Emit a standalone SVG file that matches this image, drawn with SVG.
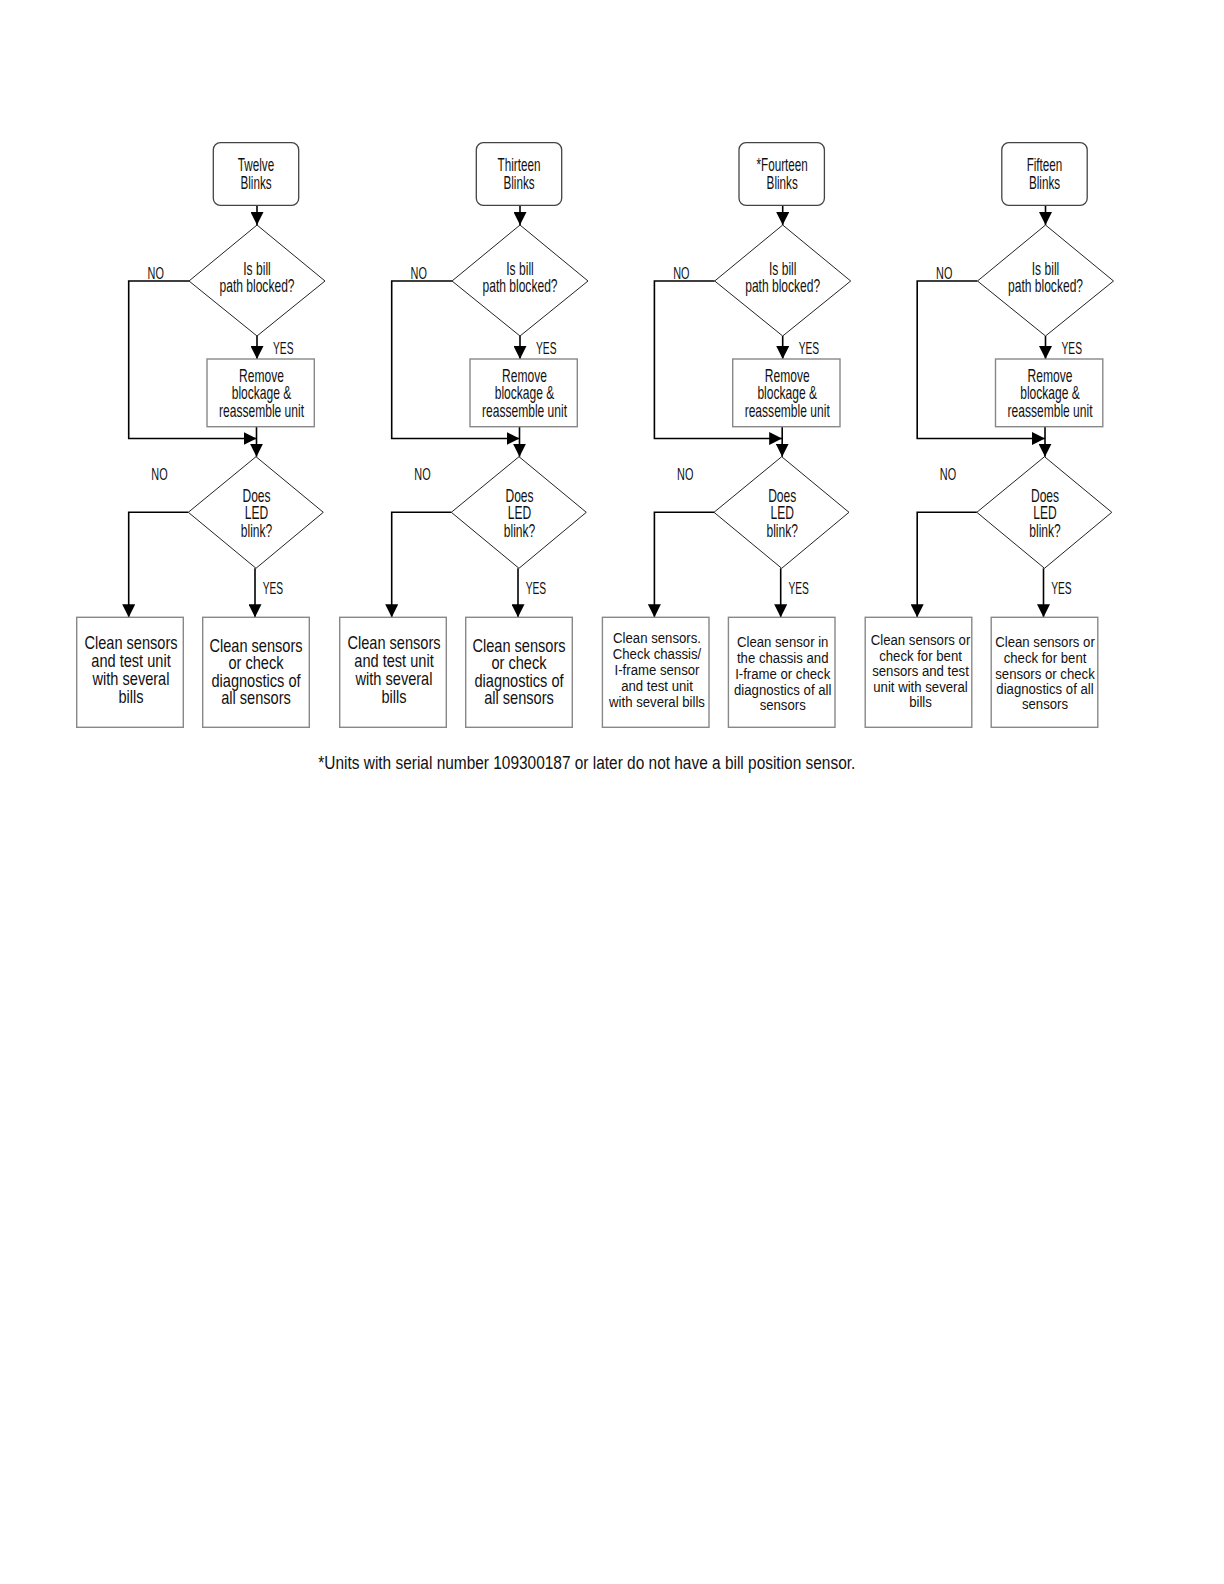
<svg xmlns="http://www.w3.org/2000/svg" width="1224" height="1584" viewBox="0 0 1224 1584">
<style>
  text { font-family: "Liberation Sans", Arial, sans-serif; fill: #111; }
  .t { font-size: 18px; text-anchor: middle; }
  .lab { font-size: 16.5px; text-anchor: middle; }
  .labs { font-size: 16.5px; text-anchor: start; }
  .b17 { font-size: 18px; text-anchor: middle; }
  .b15 { font-size: 15.5px; text-anchor: middle; }
  .start { fill: #fff; stroke: #444; stroke-width: 1.3; }
  .dia { fill: #fff; stroke: #222; stroke-width: 1; }
  .box { fill: #fff; stroke: #888; stroke-width: 1.4; }
  .conn { fill: none; stroke: #000; stroke-width: 1.6; }
  .foot { font-size: 18px; }
</style>
<defs>
  <marker id="arr" viewBox="0 0 13 13" refX="13" refY="6.5" markerWidth="13" markerHeight="13" markerUnits="userSpaceOnUse" orient="auto">
    <path d="M0,0 L13,6.5 L0,13 z" fill="#000"/>
  </marker>
</defs>
<rect width="1224" height="1584" fill="#fff"/>

<g id="connectors">
  <g id="conn-twelve" transform="translate(0,0)">
    <path class="conn" d="M257,205.3 V225" marker-end="url(#arr)"/>
    <path class="conn" d="M189,281 H128.7 V438.5 H256.5" marker-end="url(#arr)"/>
    <path class="conn" d="M257,336 V359" marker-end="url(#arr)"/>
    <path class="conn" d="M256.5,426.7 V456.7" marker-end="url(#arr)"/>
    <path class="conn" d="M188.3,512.3 H128.7 V617.3" marker-end="url(#arr)"/>
    <path class="conn" d="M255,568.3 V617.3" marker-end="url(#arr)"/>
  </g>
  <g id="conn-thirteen" transform="translate(263,0)">
    <path class="conn" d="M257,205.3 V225" marker-end="url(#arr)"/>
    <path class="conn" d="M189,281 H128.7 V438.5 H256.5" marker-end="url(#arr)"/>
    <path class="conn" d="M257,336 V359" marker-end="url(#arr)"/>
    <path class="conn" d="M256.5,426.7 V456.7" marker-end="url(#arr)"/>
    <path class="conn" d="M188.3,512.3 H128.7 V617.3" marker-end="url(#arr)"/>
    <path class="conn" d="M255,568.3 V617.3" marker-end="url(#arr)"/>
  </g>
  <g id="conn-fourteen" transform="translate(525.7,0)">
    <path class="conn" d="M257,205.3 V225" marker-end="url(#arr)"/>
    <path class="conn" d="M189,281 H128.7 V438.5 H256.5" marker-end="url(#arr)"/>
    <path class="conn" d="M257,336 V359" marker-end="url(#arr)"/>
    <path class="conn" d="M256.5,426.7 V456.7" marker-end="url(#arr)"/>
    <path class="conn" d="M188.3,512.3 H128.7 V617.3" marker-end="url(#arr)"/>
    <path class="conn" d="M255,568.3 V617.3" marker-end="url(#arr)"/>
  </g>
  <g id="conn-fifteen" transform="translate(788.5,0)">
    <path class="conn" d="M257,205.3 V225" marker-end="url(#arr)"/>
    <path class="conn" d="M189,281 H128.7 V438.5 H256.5" marker-end="url(#arr)"/>
    <path class="conn" d="M257,336 V359" marker-end="url(#arr)"/>
    <path class="conn" d="M256.5,426.7 V456.7" marker-end="url(#arr)"/>
    <path class="conn" d="M188.3,512.3 H128.7 V617.3" marker-end="url(#arr)"/>
    <path class="conn" d="M255,568.3 V617.3" marker-end="url(#arr)"/>
  </g>
</g>

<g id="labels">
  <g transform="translate(0,0)">
    <g transform="translate(155.7,0) scale(0.66,1)"><text class="lab" x="0" y="279">NO</text></g>
    <g transform="translate(273,0) scale(0.62,1)"><text class="labs" x="0" y="354">YES</text></g>
    <g transform="translate(159.5,0) scale(0.66,1)"><text class="lab" x="0" y="480">NO</text></g>
    <g transform="translate(262.7,0) scale(0.62,1)"><text class="labs" x="0" y="594.3">YES</text></g>
  </g>
  <g transform="translate(263,0)">
    <g transform="translate(155.7,0) scale(0.66,1)"><text class="lab" x="0" y="279">NO</text></g>
    <g transform="translate(273,0) scale(0.62,1)"><text class="labs" x="0" y="354">YES</text></g>
    <g transform="translate(159.5,0) scale(0.66,1)"><text class="lab" x="0" y="480">NO</text></g>
    <g transform="translate(262.7,0) scale(0.62,1)"><text class="labs" x="0" y="594.3">YES</text></g>
  </g>
  <g transform="translate(525.7,0)">
    <g transform="translate(155.7,0) scale(0.66,1)"><text class="lab" x="0" y="279">NO</text></g>
    <g transform="translate(273,0) scale(0.62,1)"><text class="labs" x="0" y="354">YES</text></g>
    <g transform="translate(159.5,0) scale(0.66,1)"><text class="lab" x="0" y="480">NO</text></g>
    <g transform="translate(262.7,0) scale(0.62,1)"><text class="labs" x="0" y="594.3">YES</text></g>
  </g>
  <g transform="translate(788.5,0)">
    <g transform="translate(155.7,0) scale(0.66,1)"><text class="lab" x="0" y="279">NO</text></g>
    <g transform="translate(273,0) scale(0.62,1)"><text class="labs" x="0" y="354">YES</text></g>
    <g transform="translate(159.5,0) scale(0.66,1)"><text class="lab" x="0" y="480">NO</text></g>
    <g transform="translate(262.7,0) scale(0.62,1)"><text class="labs" x="0" y="594.3">YES</text></g>
  </g>
</g>

<g id="nodes">
  <!-- Column 1: Twelve -->
  <g id="col-twelve" transform="translate(0,0)">
    <g id="twelve-start">
      <rect class="start" x="213.3" y="142.7" width="85.4" height="62.6" rx="7"/>
      <g transform="translate(256,0) scale(0.65,1)"><text class="t" x="0" y="170.7">Twelve</text><text class="t" x="0" y="188.7">Blinks</text></g>
    </g>
    <g id="twelve-q-blocked">
      <polygon class="dia" points="257,225 325,281 257,336 189,281"/>
      <g transform="translate(257,0) scale(0.67,1)"><text class="t" x="0" y="275">Is bill</text><text class="t" x="0" y="292.3">path blocked?</text></g>
    </g>
    <g id="twelve-remove">
      <rect class="box" x="207" y="359" width="107.3" height="67.7"/>
      <g transform="translate(261.5,0) scale(0.67,1)"><text class="t" x="0" y="382.3">Remove</text><text class="t" x="0" y="399.5">blockage &amp;</text><text class="t" x="0" y="417.3">reassemble unit</text></g>
    </g>
    <g id="twelve-q-led">
      <polygon class="dia" points="256,456.7 323.3,512.3 256,568.3 188.3,512.3"/>
      <g transform="translate(256.5,0) scale(0.67,1)"><text class="t" x="0" y="501.7">Does</text><text class="t" x="0" y="519.3">LED</text><text class="t" x="0" y="536.7">blink?</text></g>
    </g>
    <g id="twelve-no">
      <rect class="box" x="76.7" y="617.3" width="106.6" height="110"/>
      <g transform="translate(131,0) scale(0.81,1)"><text class="b17" x="0" y="649.3">Clean sensors</text><text class="b17" x="0" y="667.3">and test unit</text><text class="b17" x="0" y="685">with several</text><text class="b17" x="0" y="702.7">bills</text></g>
    </g>
    <g id="twelve-yes">
      <rect class="box" x="202.7" y="617.3" width="106.6" height="110"/>
      <g transform="translate(256,0) scale(0.81,1)"><text class="b17" x="0" y="651.7">Clean sensors</text><text class="b17" x="0" y="669">or check</text><text class="b17" x="0" y="686.7">diagnostics of</text><text class="b17" x="0" y="704.3">all sensors</text></g>
    </g>
  </g>

  <!-- Column 2: Thirteen -->
  <g id="col-thirteen" transform="translate(263,0)">
    <g id="thirteen-start">
      <rect class="start" x="213.3" y="142.7" width="85.4" height="62.6" rx="7"/>
      <g transform="translate(256,0) scale(0.65,1)"><text class="t" x="0" y="170.7">Thirteen</text><text class="t" x="0" y="188.7">Blinks</text></g>
    </g>
    <g id="thirteen-q-blocked">
      <polygon class="dia" points="257,225 325,281 257,336 189,281"/>
      <g transform="translate(257,0) scale(0.67,1)"><text class="t" x="0" y="275">Is bill</text><text class="t" x="0" y="292.3">path blocked?</text></g>
    </g>
    <g id="thirteen-remove">
      <rect class="box" x="207" y="359" width="107.3" height="67.7"/>
      <g transform="translate(261.5,0) scale(0.67,1)"><text class="t" x="0" y="382.3">Remove</text><text class="t" x="0" y="399.5">blockage &amp;</text><text class="t" x="0" y="417.3">reassemble unit</text></g>
    </g>
    <g id="thirteen-q-led">
      <polygon class="dia" points="256,456.7 323.3,512.3 256,568.3 188.3,512.3"/>
      <g transform="translate(256.5,0) scale(0.67,1)"><text class="t" x="0" y="501.7">Does</text><text class="t" x="0" y="519.3">LED</text><text class="t" x="0" y="536.7">blink?</text></g>
    </g>
    <g id="thirteen-no">
      <rect class="box" x="76.7" y="617.3" width="106.6" height="110"/>
      <g transform="translate(131,0) scale(0.81,1)"><text class="b17" x="0" y="649.3">Clean sensors</text><text class="b17" x="0" y="667.3">and test unit</text><text class="b17" x="0" y="685">with several</text><text class="b17" x="0" y="702.7">bills</text></g>
    </g>
    <g id="thirteen-yes">
      <rect class="box" x="202.7" y="617.3" width="106.6" height="110"/>
      <g transform="translate(256,0) scale(0.81,1)"><text class="b17" x="0" y="651.7">Clean sensors</text><text class="b17" x="0" y="669">or check</text><text class="b17" x="0" y="686.7">diagnostics of</text><text class="b17" x="0" y="704.3">all sensors</text></g>
    </g>
  </g>

  <!-- Column 3: Fourteen -->
  <g id="col-fourteen" transform="translate(525.7,0)">
    <g id="fourteen-start">
      <rect class="start" x="213.3" y="142.7" width="85.4" height="62.6" rx="7"/>
      <g transform="translate(256.5,0) scale(0.65,1)"><text class="t" x="0" y="170.7">*Fourteen</text><text class="t" x="0" y="188.7">Blinks</text></g>
    </g>
    <g id="fourteen-q-blocked">
      <polygon class="dia" points="257,225 325,281 257,336 189,281"/>
      <g transform="translate(257,0) scale(0.67,1)"><text class="t" x="0" y="275">Is bill</text><text class="t" x="0" y="292.3">path blocked?</text></g>
    </g>
    <g id="fourteen-remove">
      <rect class="box" x="207" y="359" width="107.3" height="67.7"/>
      <g transform="translate(261.5,0) scale(0.67,1)"><text class="t" x="0" y="382.3">Remove</text><text class="t" x="0" y="399.5">blockage &amp;</text><text class="t" x="0" y="417.3">reassemble unit</text></g>
    </g>
    <g id="fourteen-q-led">
      <polygon class="dia" points="256,456.7 323.3,512.3 256,568.3 188.3,512.3"/>
      <g transform="translate(256.5,0) scale(0.67,1)"><text class="t" x="0" y="501.7">Does</text><text class="t" x="0" y="519.3">LED</text><text class="t" x="0" y="536.7">blink?</text></g>
    </g>
    <g id="fourteen-no">
      <rect class="box" x="76.7" y="617.3" width="106.6" height="110"/>
      <g transform="translate(131.3,0) scale(0.85,1)"><text class="b15" x="0" y="643.3">Clean sensors.</text><text class="b15" x="0" y="659.3">Check chassis/</text><text class="b15" x="0" y="675">I-frame sensor</text><text class="b15" x="0" y="690.7">and test unit</text><text class="b15" x="0" y="706.7">with several bills</text></g>
    </g>
    <g id="fourteen-yes">
      <rect class="box" x="202.7" y="617.3" width="106.6" height="110"/>
      <g transform="translate(257,0) scale(0.85,1)"><text class="b15" x="0" y="646.7">Clean sensor in</text><text class="b15" x="0" y="663.3">the chassis and</text><text class="b15" x="0" y="679.3">I-frame or check</text><text class="b15" x="0" y="695">diagnostics of all</text><text class="b15" x="0" y="710">sensors</text></g>
    </g>
  </g>

  <!-- Column 4: Fifteen -->
  <g id="col-fifteen" transform="translate(788.5,0)">
    <g id="fifteen-start">
      <rect class="start" x="213.3" y="142.7" width="85.4" height="62.6" rx="7"/>
      <g transform="translate(256,0) scale(0.65,1)"><text class="t" x="0" y="170.7">Fifteen</text><text class="t" x="0" y="188.7">Blinks</text></g>
    </g>
    <g id="fifteen-q-blocked">
      <polygon class="dia" points="257,225 325,281 257,336 189,281"/>
      <g transform="translate(257,0) scale(0.67,1)"><text class="t" x="0" y="275">Is bill</text><text class="t" x="0" y="292.3">path blocked?</text></g>
    </g>
    <g id="fifteen-remove">
      <rect class="box" x="207" y="359" width="107.3" height="67.7"/>
      <g transform="translate(261.5,0) scale(0.67,1)"><text class="t" x="0" y="382.3">Remove</text><text class="t" x="0" y="399.5">blockage &amp;</text><text class="t" x="0" y="417.3">reassemble unit</text></g>
    </g>
    <g id="fifteen-q-led">
      <polygon class="dia" points="256,456.7 323.3,512.3 256,568.3 188.3,512.3"/>
      <g transform="translate(256.5,0) scale(0.67,1)"><text class="t" x="0" y="501.7">Does</text><text class="t" x="0" y="519.3">LED</text><text class="t" x="0" y="536.7">blink?</text></g>
    </g>
    <g id="fifteen-no">
      <rect class="box" x="76.7" y="617.3" width="106.6" height="110"/>
      <g transform="translate(132,0) scale(0.85,1)"><text class="b15" x="0" y="645">Clean sensors or</text><text class="b15" x="0" y="660.7">check for bent</text><text class="b15" x="0" y="676">sensors and test</text><text class="b15" x="0" y="691.7">unit with several</text><text class="b15" x="0" y="706.7">bills</text></g>
    </g>
    <g id="fifteen-yes">
      <rect class="box" x="202.7" y="617.3" width="106.6" height="110"/>
      <g transform="translate(256.5,0) scale(0.85,1)"><text class="b15" x="0" y="647.3">Clean sensors or</text><text class="b15" x="0" y="662.7">check for bent</text><text class="b15" x="0" y="678.7">sensors or check</text><text class="b15" x="0" y="694">diagnostics of all</text><text class="b15" x="0" y="709.3">sensors</text></g>
    </g>
  </g>
</g>

<g id="footnote">
  <text class="foot" x="318.3" y="768.7" textLength="537" lengthAdjust="spacingAndGlyphs">*Units with serial number 109300187 or later do not have a bill position sensor.</text>
</g>
</svg>
